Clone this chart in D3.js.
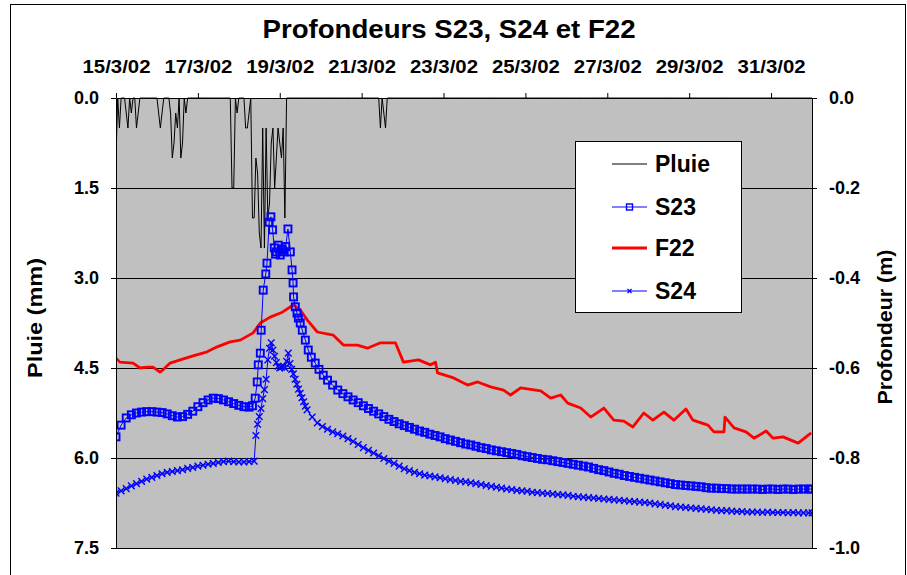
<!DOCTYPE html>
<html><head><meta charset="utf-8">
<script src="https://cdn.jsdelivr.net/npm/d3@7"></script>
<style>
html,body{margin:0;padding:0;background:#fff;}
svg{display:block;}
text{font-family:"Liberation Sans",Arial,sans-serif;font-weight:bold;fill:#000;}
</style></head>
<body>
<svg id="chart" width="907" height="575"></svg>
<script>
// ---------- DATA ----------
const startDate = "2002-03-15";
const endDate = "2002-04-01";
const dateTicks = ["2002-03-15","2002-03-17","2002-03-19","2002-03-21","2002-03-23","2002-03-25","2002-03-27","2002-03-29","2002-03-31"];
const leftTicks = [0, 1.5, 3.0, 4.5, 6.0, 7.5];
const rightTicks = [0, -0.2, -0.4, -0.6, -0.8, -1.0];
const gridValues = [1.5, 3.0, 4.5, 6.0];
const seriesNames = ["Pluie", "S23", "F22", "S24"];

// Rain (mm), hourly, hours since 15/3/02 00:00 (only non-zero hours listed)
const rainHours = [0,2,6,7,9,12,13,25,26,27,32,33,34,35,36,38,39,41,68,69,71,76,77,78,80,81,82,83,84,85,86,87,88,89,90,91,92,93,94,95,96,97,98,99,155,157,158];
const rainMm    = [1.0,0.5,0.25,0.5,0.25,0.5,0.25,0.25,0.5,0.25,0.25,1.0,0.75,0.25,0.5,1.0,0.75,0.25,1.5,1.5,0.25,0.5,0.5,0.25,2.0,2.0,1.0,1.25,2.25,2.5,0.5,2.5,0.5,2.0,1.75,0.75,0.5,1.5,1.0,0.5,0.75,1.0,0.5,2.0,0.5,0.25,0.5];
const rainLastHour = 408;

// S23 depth (m): [hours since 15/3/02 00:00, depth]
const s23 = [[0,-0.753],[3,-0.727],[6,-0.711],[9,-0.704],[12,-0.700],[15,-0.698],[18,-0.697],[21,-0.697],[24,-0.698],[27,-0.699],[30,-0.702],[33,-0.706],[36,-0.709],[39,-0.708],[42,-0.703],[45,-0.696],[48,-0.686],[51,-0.677],[54,-0.671],[57,-0.667],[60,-0.668],[63,-0.671],[66,-0.675],[69,-0.679],[72,-0.683],[75,-0.686],[78,-0.687],[80,-0.684],
[81.6,-0.667],[82.8,-0.631],[83.4,-0.593],[84.6,-0.567],[85.1,-0.516],[86.3,-0.427],[87.8,-0.391],[88.5,-0.367],[89.8,-0.276],[90.8,-0.264],[91.8,-0.293],[92.8,-0.333],[93.5,-0.347],[94.0,-0.342],[95.1,-0.327],[96.3,-0.349],[97.0,-0.335],[97.5,-0.338],[98.6,-0.342],[99.5,-0.330],[100.8,-0.291],[102.2,-0.342],[103.2,-0.382],[103.8,-0.411],[104.1,-0.442],[105.1,-0.464],[106.1,-0.478],[106.9,-0.489],[108.0,-0.500],[109.2,-0.516],[111.0,-0.538],[112.7,-0.560],[114.5,-0.576],[116.8,-0.589],[119,-0.603],[121.5,-0.616],[124,-0.627],[127,-0.638],[130,-0.649],
[133,-0.657],[136,-0.664],[139,-0.671],[142,-0.677],[145,-0.684],[148,-0.690],[151,-0.696],[154,-0.702],[157,-0.708],[160,-0.714],[163,-0.719],[166,-0.724],[169,-0.728],[172,-0.732],[175,-0.736],[178,-0.740],[181,-0.743],[184,-0.747],[187,-0.750],[190,-0.753],[193,-0.757],[196,-0.760],[199,-0.763],[202,-0.766],[205,-0.769],[208,-0.771],[211,-0.774],[214,-0.777],[217,-0.779],[220,-0.782],[223,-0.784],[226,-0.786],[229,-0.788],[232,-0.790],[235,-0.792],[238,-0.795],[241,-0.797],[244,-0.799],[247,-0.801],[250,-0.803],[253,-0.804],[256,-0.806],[259,-0.808],[262,-0.810],[265,-0.812],[268,-0.814],[271,-0.816],[274,-0.818],[277,-0.820],[280,-0.823],[283,-0.826],[286,-0.828],[289,-0.831],[292,-0.834],[295,-0.836],[298,-0.839],[301,-0.841],[304,-0.843],[307,-0.845],[310,-0.847],[313,-0.849],[316,-0.851],[319,-0.853],[322,-0.855],[325,-0.857],[328,-0.859],[331,-0.860],[334,-0.861],[337,-0.862],[340,-0.863],[343,-0.864],[346,-0.866],[349,-0.867],[352,-0.867],[355,-0.868],[358,-0.868],[361,-0.869],[364,-0.869],[367,-0.869],[370,-0.869],[373,-0.869],[376,-0.869],[379,-0.870],[382,-0.869],[385,-0.869],[388,-0.870],[391,-0.869],[394,-0.869],[397,-0.870],[400,-0.869],[403,-0.869],[406,-0.869],[408,-0.869]];

// S24 depth (m)
const s24 = [[0,-0.878],[3,-0.873],[6,-0.868],[9,-0.862],[12,-0.857],[15,-0.852],[18,-0.847],[21,-0.843],[24,-0.839],[27,-0.835],[30,-0.832],[33,-0.830],[36,-0.828],[39,-0.826],[42,-0.823],[45,-0.821],[48,-0.818],[51,-0.816],[54,-0.814],[57,-0.812],[60,-0.810],[63,-0.808],[66,-0.807],[69,-0.808],[72,-0.809],[75,-0.809],[78,-0.808],[81,-0.807],
[82,-0.750],[83,-0.725],[84,-0.708],[85,-0.690],[86,-0.668],[87,-0.648],[88,-0.625],[89,-0.582],[90,-0.556],[91,-0.544],[92,-0.560],[93,-0.574],[94,-0.588],[95,-0.596],[96,-0.600],[97,-0.598],[98,-0.596],[99,-0.600],[100,-0.585],[101,-0.567],[102,-0.590],[103,-0.603],[104,-0.613],[105,-0.625],[106,-0.636],[107,-0.647],[108,-0.656],[109,-0.666],[110,-0.675],[111,-0.685],[112,-0.693],
[115,-0.709],[118,-0.722],[121,-0.730],[124,-0.736],[127,-0.742],[130,-0.746],[133,-0.751],[136,-0.757],[139,-0.763],[142,-0.770],[145,-0.777],[148,-0.783],[151,-0.789],[154,-0.795],[157,-0.801],[160,-0.807],[163,-0.812],[166,-0.818],[169,-0.824],[172,-0.828],[175,-0.832],[178,-0.835],[181,-0.838],[184,-0.840],[187,-0.842],[190,-0.844],[193,-0.846],[196,-0.848],[199,-0.850],[202,-0.852],[205,-0.853],[208,-0.855],[211,-0.857],[214,-0.859],[217,-0.861],[220,-0.863],[223,-0.865],[226,-0.867],[229,-0.869],[232,-0.870],[235,-0.872],[238,-0.873],[241,-0.874],[244,-0.876],[247,-0.877],[250,-0.878],[253,-0.879],[256,-0.880],[259,-0.881],[262,-0.882],[265,-0.883],[268,-0.885],[271,-0.886],[274,-0.887],[277,-0.888],[280,-0.889],[283,-0.890],[286,-0.891],[289,-0.892],[292,-0.893],[295,-0.894],[298,-0.895],[301,-0.896],[304,-0.897],[307,-0.898],[310,-0.899],[313,-0.900],[316,-0.902],[319,-0.903],[322,-0.905],[325,-0.906],[328,-0.908],[331,-0.909],[334,-0.910],[337,-0.911],[340,-0.912],[343,-0.913],[346,-0.914],[349,-0.915],[352,-0.916],[355,-0.917],[358,-0.917],[361,-0.918],[364,-0.919],[367,-0.919],[370,-0.920],[373,-0.920],[376,-0.920],[379,-0.921],[382,-0.920],[385,-0.921],[388,-0.921],[391,-0.921],[394,-0.922],[397,-0.921],[400,-0.922],[403,-0.922],[406,-0.922],[408,-0.922]];

// F22 depth (m)
const f22 = [[0,-0.578],[2.3,-0.587],[10,-0.589],[14.1,-0.600],[18.2,-0.598],[21.7,-0.598],[25.8,-0.609],[27.6,-0.604],[31.7,-0.589],[37.6,-0.582],[45.2,-0.573],[53.4,-0.564],[59.3,-0.553],[66.9,-0.542],[72.8,-0.538],[80.4,-0.522],[84.6,-0.500],[90.4,-0.487],[97.5,-0.476],[103.9,-0.460],[108,-0.471],[112.1,-0.493],[118,-0.520],[127.4,-0.527],[133.3,-0.549],[141.5,-0.549],[147.4,-0.556],[155,-0.544],[163.8,-0.544],[168.5,-0.587],[177.3,-0.582],[184.4,-0.593],[187.3,-0.587],[188.5,-0.611],[197.9,-0.622],[206.1,-0.638],[212,-0.631],[219.6,-0.642],[227.2,-0.649],[231.3,-0.660],[237.2,-0.644],[249,-0.651],[254.8,-0.667],[260.7,-0.660],[264.8,-0.678],[272.4,-0.689],[278.3,-0.709],[286,-0.689],[291.8,-0.716],[297.7,-0.718],[303,-0.731],[309.4,-0.700],[314.7,-0.716],[321.2,-0.698],[327,-0.716],[334.1,-0.691],[338.2,-0.716],[347,-0.727],[350.5,-0.742],[356.4,-0.742],[357,-0.709],[362.3,-0.733],[369.3,-0.742],[374,-0.756],[381.1,-0.740],[385.2,-0.756],[391,-0.753],[399.9,-0.767],[407.5,-0.744]];

// ---------- CHART ----------
const svg = d3.select("#chart");
const plot = {left:116, right:812, top:98, bottom:548};

const t0 = d3.utcParse("%Y-%m-%d")(startDate);
const tEnd = d3.utcParse("%Y-%m-%d")(endDate);
const hourToDate = h => new Date(t0.getTime() + h*3600*1000);

const x = d3.scaleUtc().domain([t0, tEnd]).range([plot.left, plot.right]);
const yL = d3.scaleLinear().domain([0, 7.5]).range([plot.top, plot.bottom]);
const yR = d3.scaleLinear().domain([0, -1.0]).range([plot.top, plot.bottom]);

// outer frame
svg.append("rect").attr("x",10.5).attr("y",4.5).attr("width",895).attr("height",620)
  .attr("fill","#fff").attr("stroke","#000").attr("stroke-width",1);

// plot background
svg.append("rect").attr("x",plot.left).attr("y",plot.top)
  .attr("width",plot.right-plot.left).attr("height",plot.bottom-plot.top)
  .attr("fill","#c0c0c0");

// gridlines
svg.append("g").selectAll("line").data(gridValues).join("line")
  .attr("x1",plot.left).attr("x2",plot.right)
  .attr("y1",d=>Math.round(yL(d))+0.5).attr("y2",d=>Math.round(yL(d))+0.5)
  .attr("stroke","#000").attr("stroke-width",1);

svg.append("clipPath").attr("id","clip").append("rect")
  .attr("x",plot.left).attr("y",plot.top-1).attr("width",plot.right-plot.left+1).attr("height",plot.bottom-plot.top+2);
const g = svg.append("g").attr("clip-path","url(#clip)");

// rain
const rainMap = new Map(rainHours.map((h,i)=>[h, rainMm[i]]));
const rainSeries = d3.range(0, rainLastHour+1).map(h => [h, rainMap.get(h) || 0]);
g.append("path").datum(rainSeries)
  .attr("fill","none").attr("stroke","#000").attr("stroke-width",1)
  .attr("d", d3.line().x(d=>x(hourToDate(d[0]))).y(d=>yL(d[1])));

// F22
g.append("path").datum(f22)
  .attr("fill","none").attr("stroke","#ff0000").attr("stroke-width",2.8).attr("stroke-linejoin","round")
  .attr("d", d3.line().x(d=>x(hourToDate(d[0]))).y(d=>yR(d[1])));

// S24 line + x markers
g.append("path").datum(s24)
  .attr("fill","none").attr("stroke","#0000ff").attr("stroke-width",1)
  .attr("d", d3.line().x(d=>x(hourToDate(d[0]))).y(d=>yR(d[1])));
const xm = 3.3;
g.append("g").selectAll("path").data(s24).join("path")
  .attr("transform", d=>`translate(${x(hourToDate(d[0]))},${yR(d[1])})`)
  .attr("d", `M${-xm},${-xm}L${xm},${xm}M${-xm},${xm}L${xm},${-xm}`)
  .attr("stroke","#0000ff").attr("stroke-width",1.4).attr("fill","none");

// S23 line + square markers
g.append("path").datum(s23)
  .attr("fill","none").attr("stroke","#0000ff").attr("stroke-width",1)
  .attr("d", d3.line().x(d=>x(hourToDate(d[0]))).y(d=>yR(d[1])));
const sq = 7;
g.append("g").selectAll("rect").data(s23).join("rect")
  .attr("x", d=>x(hourToDate(d[0]))-sq/2).attr("y", d=>yR(d[1])-sq/2)
  .attr("width",sq).attr("height",sq)
  .attr("fill","none").attr("stroke","#0000ff").attr("stroke-width",1.9);

// axes
const fmt1 = v => (Math.abs(v) < 1e-9 ? 0 : v).toFixed(1);
const axL = d3.axisLeft(yL).tickValues(leftTicks).tickFormat(fmt1).tickSizeInner(5).tickSizeOuter(0).tickPadding(12);
const gL = svg.append("g").attr("transform",`translate(${plot.left},0)`).call(axL);
const axR = d3.axisRight(yR).tickValues(rightTicks).tickFormat(fmt1).tickSizeInner(5).tickSizeOuter(0).tickPadding(12);
const gR = svg.append("g").attr("transform",`translate(${plot.right},0)`).call(axR);
const tickDates = dateTicks.map(d3.utcParse("%Y-%m-%d"));
const axT = d3.axisTop(x).tickValues(tickDates).tickFormat(d3.utcFormat("%-d/%-m/%y")).tickSizeInner(5).tickSizeOuter(0).tickPadding(20);
const gT = svg.append("g").attr("transform",`translate(0,${plot.top})`).call(axT);
[gL,gR,gT].forEach(a=>{
  a.selectAll(".domain").attr("stroke","#000");
  a.selectAll(".tick line").attr("stroke","#000");
  a.selectAll("text").attr("font-family",'"Liberation Sans",Arial,sans-serif').attr("font-weight","bold").attr("fill","#000");
});
gL.selectAll("text").attr("font-size",18);
gR.selectAll("text").attr("font-size",18);
gT.selectAll("text").attr("font-size",19).attr("textLength",68).attr("lengthAdjust","spacingAndGlyphs");
// bottom edge
svg.append("line").attr("x1",plot.left).attr("x2",plot.right).attr("y1",plot.bottom+0.5).attr("y2",plot.bottom+0.5).attr("stroke","#000");

// titles
svg.append("text").attr("x",449).attr("y",38).attr("text-anchor","middle").attr("font-size",26)
  .attr("textLength",373).attr("lengthAdjust","spacingAndGlyphs")
  .text("Profondeurs S23, S24 et F22");
svg.append("text").attr("transform","translate(42,318) rotate(-90)").attr("text-anchor","middle").attr("font-size",21)
  .attr("textLength",120).attr("lengthAdjust","spacingAndGlyphs")
  .text("Pluie (mm)");
svg.append("text").attr("transform","translate(892,327) rotate(-90)").attr("text-anchor","middle").attr("font-size",21)
  .attr("textLength",155).attr("lengthAdjust","spacingAndGlyphs")
  .text("Profondeur (m)");

// legend
const lg = svg.append("g");
lg.append("rect").attr("x",575.5).attr("y",141.5).attr("width",166).attr("height",171)
  .attr("fill","#fff").attr("stroke","#000");
const legY = [164, 207, 248, 291];
const legStyle = [
  {stroke:"#000", w:1, marker:null},
  {stroke:"#0000ff", w:1, marker:"square"},
  {stroke:"#ff0000", w:2.8, marker:null},
  {stroke:"#0000ff", w:1, marker:"x"}
];
seriesNames.forEach((name,i)=>{
  const y0 = legY[i];
  lg.append("line").attr("x1",612).attr("x2",647).attr("y1",y0).attr("y2",y0)
    .attr("stroke",legStyle[i].stroke).attr("stroke-width",legStyle[i].w);
  if (legStyle[i].marker==="square") {
    lg.append("rect").attr("x",629.5-3).attr("y",y0-3).attr("width",6).attr("height",6)
      .attr("fill","none").attr("stroke","#0000ff").attr("stroke-width",1.4);
  } else if (legStyle[i].marker==="x") {
    lg.append("path").attr("transform",`translate(629.5,${y0})`)
      .attr("d",`M-2,-2L2,2M-2,2L2,-2`).attr("stroke","#0000ff").attr("stroke-width",1.2);
  }
  lg.append("text").attr("x",655).attr("y",y0+8).attr("font-size",23).text(name);
});
</script>
</body></html>
